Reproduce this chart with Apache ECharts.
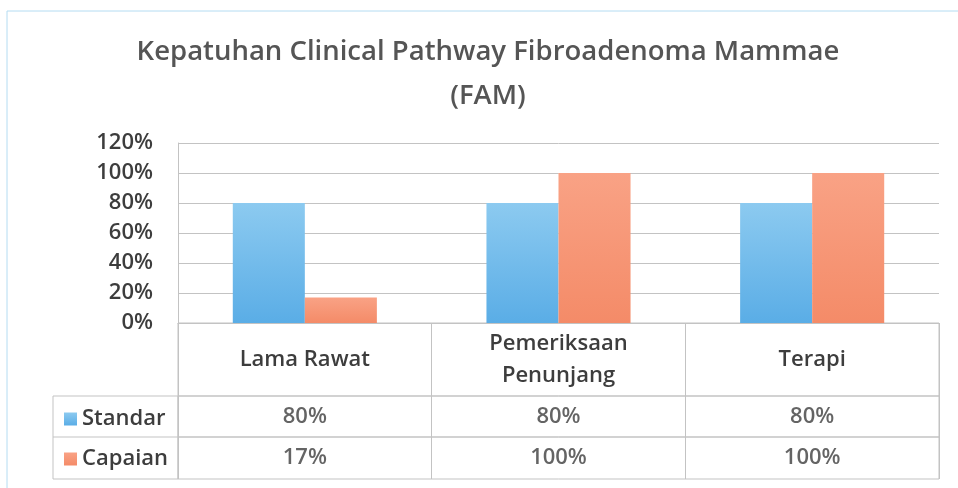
<!DOCTYPE html>
<html>
<head>
<meta charset="utf-8">
<script src="https://cdn.jsdelivr.net/npm/echarts@6/dist/echarts.min.js"></script>
<style>
  html, body { margin: 0; padding: 0; background: #fff; }
  #chart { width: 958px; height: 488px; }
</style>
</head>
<body>
<div id="chart"></div>
<script>
const titleText = 'Kepatuhan Clinical Pathway Fibroadenoma Mammae\n(FAM)';
const categories = ['Lama Rawat', 'Pemeriksaan\nPenunjang', 'Terapi'];
const seriesNames = ['Standar', 'Capaian'];
const standar = [80, 80, 80];
const capaian = [17, 100, 100];
const yTicks = { min: 0, max: 120, step: 20 };

const FONT = '"Open Sans", sans-serif';
const TEXT = '#3d3d3d';
const LINE = '#c3c3c3';
const BLUE = '#66b5e9';
const ORANGE = '#f6926f';

const chart = echarts.init(document.getElementById('chart'));

// table rows below the plot, one grid each
const plotLeft = 178, plotRight = 19;
function tableAxis(gridIndex) {
  return {
    type: 'category', gridIndex, data: categories, boundaryGap: true,
    axisLine: { show: false }, axisTick: { show: false }, axisLabel: { show: false },
    splitLine: { show: true, lineStyle: { color: LINE, width: 1 } }
  };
}
function rowY(gridIndex, name) {
  return {
    type: 'category', gridIndex, data: [name],
    axisLine: { show: false }, axisTick: { show: false }, axisLabel: { show: false },
    splitLine: { show: false }
  };
}
function tableSeries(gridIndex, values, name) {
  return {
    type: 'scatter', name: 'tbl-' + name, xAxisIndex: gridIndex, yAxisIndex: gridIndex,
    symbolSize: 0, silent: true,
    data: values.map((v, i) => [i, 0, v]),
    label: {
      show: true, position: 'inside', formatter: p => p.value[2] + '%',
      fontFamily: FONT, fontSize: 22, fontWeight: 600, color: TEXT
    }
  };
}

const option = {
  backgroundColor: '#fff',
  animation: false,
  title: {
    text: titleText, left: 483, top: 25, textAlign: 'center',
    textStyle: { fontFamily: FONT, fontSize: 27.5, fontWeight: 600, color: '#555555', lineHeight: 44 }
  },
  legend: {
    data: seriesNames, orient: 'vertical', left: 59, top: 403,
    icon: 'rect', itemWidth: 13, itemHeight: 13, itemGap: 18,
    textStyle: { fontFamily: FONT, fontSize: 22, fontWeight: 600, color: TEXT, lineHeight: 20 }
  },
  grid: [
    { left: plotLeft, right: plotRight, top: 143, height: 180 },
    { left: plotLeft, right: plotRight, top: 323, height: 73, show: true, borderColor: LINE, borderWidth: 1 },
    { left: plotLeft, right: plotRight, top: 396, height: 41, show: true, borderColor: LINE, borderWidth: 1 },
    { left: plotLeft, right: plotRight, top: 437, height: 42, show: true, borderColor: LINE, borderWidth: 1 }
  ],
  xAxis: [
    {
      type: 'category', gridIndex: 0, data: categories,
      axisLine: { show: true, lineStyle: { color: LINE } },
      axisTick: { show: false },
      axisLabel: {
        margin: 37, verticalAlign: 'middle', fontFamily: FONT, fontSize: 22, fontWeight: 600,
        color: TEXT, lineHeight: 32, interval: 0
      }
    },
    tableAxis(1), tableAxis(2), tableAxis(3)
  ],
  yAxis: [
    {
      type: 'value', gridIndex: 0, min: yTicks.min, max: yTicks.max, interval: yTicks.step,
      axisLine: { show: true, lineStyle: { color: LINE } },
      axisTick: { show: false },
      axisLabel: { formatter: '{value}%', margin: 25, fontFamily: FONT, fontSize: 22, fontWeight: 600, color: TEXT },
      splitLine: { lineStyle: { color: LINE } }
    },
    { type: 'value', gridIndex: 1, show: false },
    rowY(2, seriesNames[0]), rowY(3, seriesNames[1])
  ],
  series: [
    {
      name: seriesNames[0], type: 'bar', data: standar, barWidth: '28.4%', barGap: '0%',
      itemStyle: { color: new echarts.graphic.LinearGradient(0, 0, 0, 1, [
        { offset: 0, color: '#8ccaf0' }, { offset: 1, color: '#5aade6' }]) }
    },
    {
      name: seriesNames[1], type: 'bar', data: capaian, barWidth: '28.4%', barGap: '0%',
      itemStyle: { color: new echarts.graphic.LinearGradient(0, 0, 0, 1, [
        { offset: 0, color: '#f9a285' }, { offset: 1, color: '#f48b68' }]) }
    },
    tableSeries(2, standar, seriesNames[0]),
    tableSeries(3, capaian, seriesNames[1])
  ],
  color: [BLUE, ORANGE],
  graphic: [
    // outer chart frame
    { type: 'rect', shape: { x: 7, y: 11, width: 960, height: 490 },
      style: { fill: 'none', stroke: '#b4dcf2', lineWidth: 1 }, silent: true },
    // legend column of the data table
    { type: 'rect', shape: { x: 53, y: 396, width: 125, height: 83 },
      style: { fill: 'none', stroke: LINE, lineWidth: 1 }, silent: true },
    { type: 'line', shape: { x1: 53, y1: 437, x2: 178, y2: 437 },
      style: { stroke: LINE, lineWidth: 1 }, silent: true }
  ]
};

chart.setOption(option);
</script>
</body>
</html>
